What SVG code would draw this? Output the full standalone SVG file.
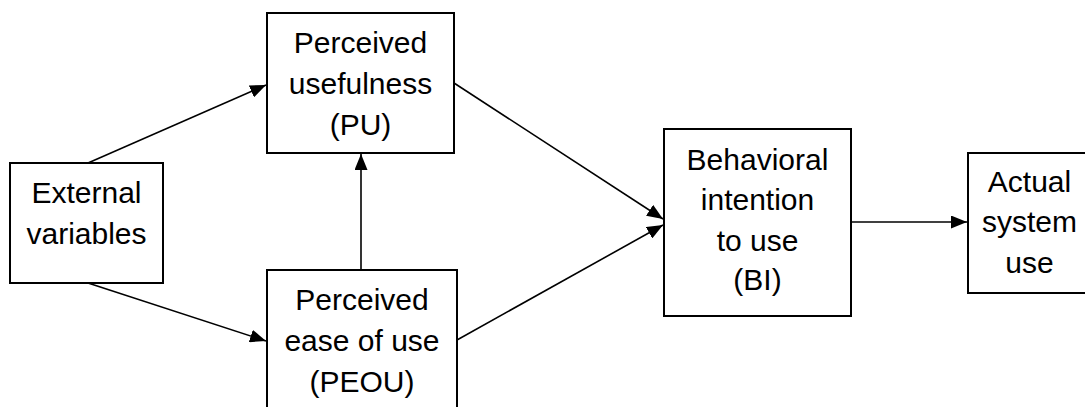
<svg xmlns="http://www.w3.org/2000/svg" width="1085" height="407" viewBox="0 0 1085 407">
  <style>
    .box { fill: #ffffff; stroke: #000000; stroke-width: 2; }
    .lbl { font-family: "Liberation Sans", Arial, sans-serif; font-size: 30px; fill: #000000; text-anchor: middle; }
    .edge { stroke: #000000; stroke-width: 1.6; fill: none; marker-end: url(#arrow); }
  </style>
  <defs>
    <marker id="arrow" markerUnits="userSpaceOnUse" markerWidth="17" markerHeight="13" refX="16" refY="6.5" orient="auto">
      <path d="M0,0 L16,6.5 L0,13 Z" fill="#000000"/>
    </marker>
  </defs>
  <rect width="1085" height="407" fill="#ffffff"/>
  <g id="connectors">
    <line class="edge" x1="88" y1="163" x2="266" y2="85"/>
    <line class="edge" x1="88" y1="283" x2="266" y2="341"/>
    <line class="edge" x1="361" y1="270" x2="361" y2="154"/>
    <line class="edge" x1="454" y1="83" x2="663" y2="219"/>
    <line class="edge" x1="457" y1="340" x2="663" y2="225"/>
    <line class="edge" x1="851" y1="222" x2="967" y2="222"/>
  </g>
  <g id="external">
    <rect class="box" x="10" y="163" width="153" height="120"/>
    <text class="lbl" x="86.5" y="203">External</text>
    <text class="lbl" x="86.5" y="244">variables</text>
  </g>
  <g id="pu">
    <rect class="box" x="267" y="13" width="187" height="140"/>
    <text class="lbl" x="360.5" y="53">Perceived</text>
    <text class="lbl" x="360.5" y="94">usefulness</text>
    <text class="lbl" x="360.5" y="135">(PU)</text>
  </g>
  <g id="peou">
    <rect class="box" x="267" y="270" width="190" height="150"/>
    <text class="lbl" x="362" y="310">Perceived</text>
    <text class="lbl" x="362" y="351">ease of use</text>
    <text class="lbl" x="362" y="392">(PEOU)</text>
  </g>
  <g id="bi">
    <rect class="box" x="664" y="129" width="187" height="187"/>
    <text class="lbl" x="757.5" y="170">Behavioral</text>
    <text class="lbl" x="757.5" y="210">intention</text>
    <text class="lbl" x="757.5" y="251">to use</text>
    <text class="lbl" x="757.5" y="290">(BI)</text>
  </g>
  <g id="actual">
    <rect class="box" x="968" y="153" width="124" height="140"/>
    <text class="lbl" x="1029.5" y="192">Actual</text>
    <text class="lbl" x="1029.5" y="232">system</text>
    <text class="lbl" x="1029.5" y="273">use</text>
  </g>
</svg>
